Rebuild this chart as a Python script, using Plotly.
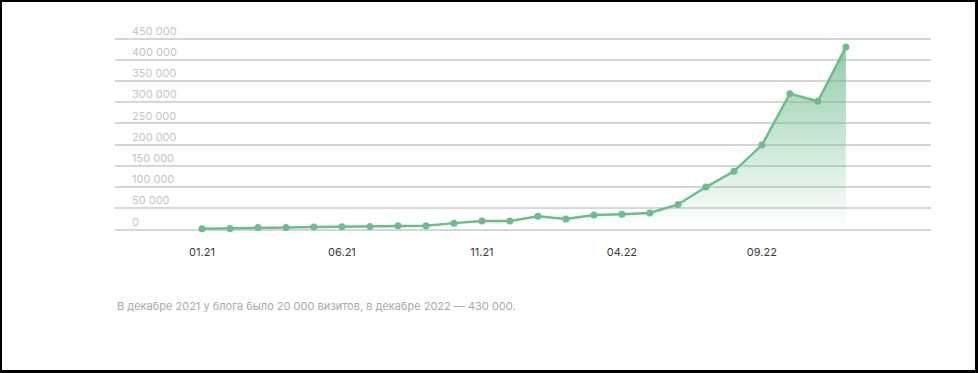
import plotly.graph_objects as go

months = ["01.21", "02.21", "03.21", "04.21", "05.21", "06.21", "07.21", "08.21",
          "09.21", "10.21", "11.21", "12.21", "01.22", "02.22", "03.22", "04.22",
          "05.22", "06.22", "07.22", "08.22", "09.22", "10.22", "11.22", "12.22"]
visits = [2000, 2500, 4500, 4500, 6000, 6500, 7000, 9000,
          9000, 15000, 20000, 20000, 31000, 25000, 34000, 36000,
          39000, 59000, 100000, 137000, 199000, 320000, 302000, 430000]
tick_months = ["01.21", "06.21", "11.21", "04.22", "09.22"]
y_ticks = [0, 50000, 100000, 150000, 200000, 250000, 300000, 350000, 400000, 450000]
y_labels = ["0", "50 000", "100 000", "150 000", "200 000", "250 000",
            "300 000", "350 000", "400 000", "450 000"]
caption = "В декабре 2021 у блога было 20 000 визитов, в декабре 2022 — 430 000."

GREEN = "#6bbd8c"
W, H = 978, 373
ML, MR, MT, MB = 115, 47, 20, 140
PW, PH = W - ML - MR, H - MT - MB
# pixel rows of the 0 and 450 000 grid lines
Y0_PX, Y450_PX = 229.5, 38.5
per_px = 450000 / (Y0_PX - Y450_PX)
y_min = -(H - MB - Y0_PX) * per_px
y_max = 450000 + (Y450_PX - MT) * per_px


def px_x(p):
    return (p - ML) / PW


def px_y(p):
    return (H - MB - p) / PH


def edge(x0, y0, x1, y1):
    return dict(type="rect", xref="paper", yref="paper",
                x0=px_x(x0), x1=px_x(x1), y0=px_y(y1), y1=px_y(y0),
                line=dict(width=0), fillcolor="black", layer="above")


fig = go.Figure()
fig.add_trace(go.Scatter(
    x=months, y=visits, mode="lines+markers",
    line=dict(color=GREEN, width=2.5),
    marker=dict(color=GREEN, size=7),
    fill="tozeroy",
    fillgradient=dict(type="vertical",
                      colorscale=[[0, "rgba(107,189,140,0)"],
                                  [1, "rgba(107,189,140,0.75)"]]),
    hoverinfo="skip",
))

fig.update_layout(
    width=W, height=H,
    margin=dict(l=ML, r=MR, t=MT, b=MB),
    paper_bgcolor="white", plot_bgcolor="white",
    showlegend=False,
    font=dict(family="Inter, Roboto, sans-serif"),
    xaxis=dict(
        type="category", categoryorder="array", categoryarray=months,
        range=[-3.107, 26.04],
        tickmode="array", tickvals=tick_months, ticktext=tick_months,
        showgrid=False, zeroline=False, showline=False, ticks="",
        tickfont=dict(size=11, color="#3a3a3a"),
        ticklabelstandoff=11,
    ),
    yaxis=dict(
        range=[y_min, y_max],
        tickmode="array", tickvals=y_ticks, ticktext=y_labels,
        showgrid=True, gridcolor="#d6d6d6", gridwidth=2,
        zeroline=False, showline=False, ticks="",
        ticklabelposition="inside top",
        ticklabelstandoff=14,
        tickfont=dict(size=11, color="#c4c4c4"),
    ),
    annotations=[dict(
        text=caption, xref="paper", yref="paper",
        x=0, y=px_y(306), xanchor="left", yanchor="middle",
        showarrow=False, font=dict(size=11, color="#a9a9a9"),
    )],
    shapes=[
        edge(0, 0, W, 2),
        edge(0, 0, 2, H),
        edge(W - 3, 0, W, H),
        edge(0, H - 3, W, H),
    ],
)

fig.write_html("out.html", config={"displayModeBar": False},
               post_script="document.body.style.margin='0';document.body.style.overflow='hidden';")
